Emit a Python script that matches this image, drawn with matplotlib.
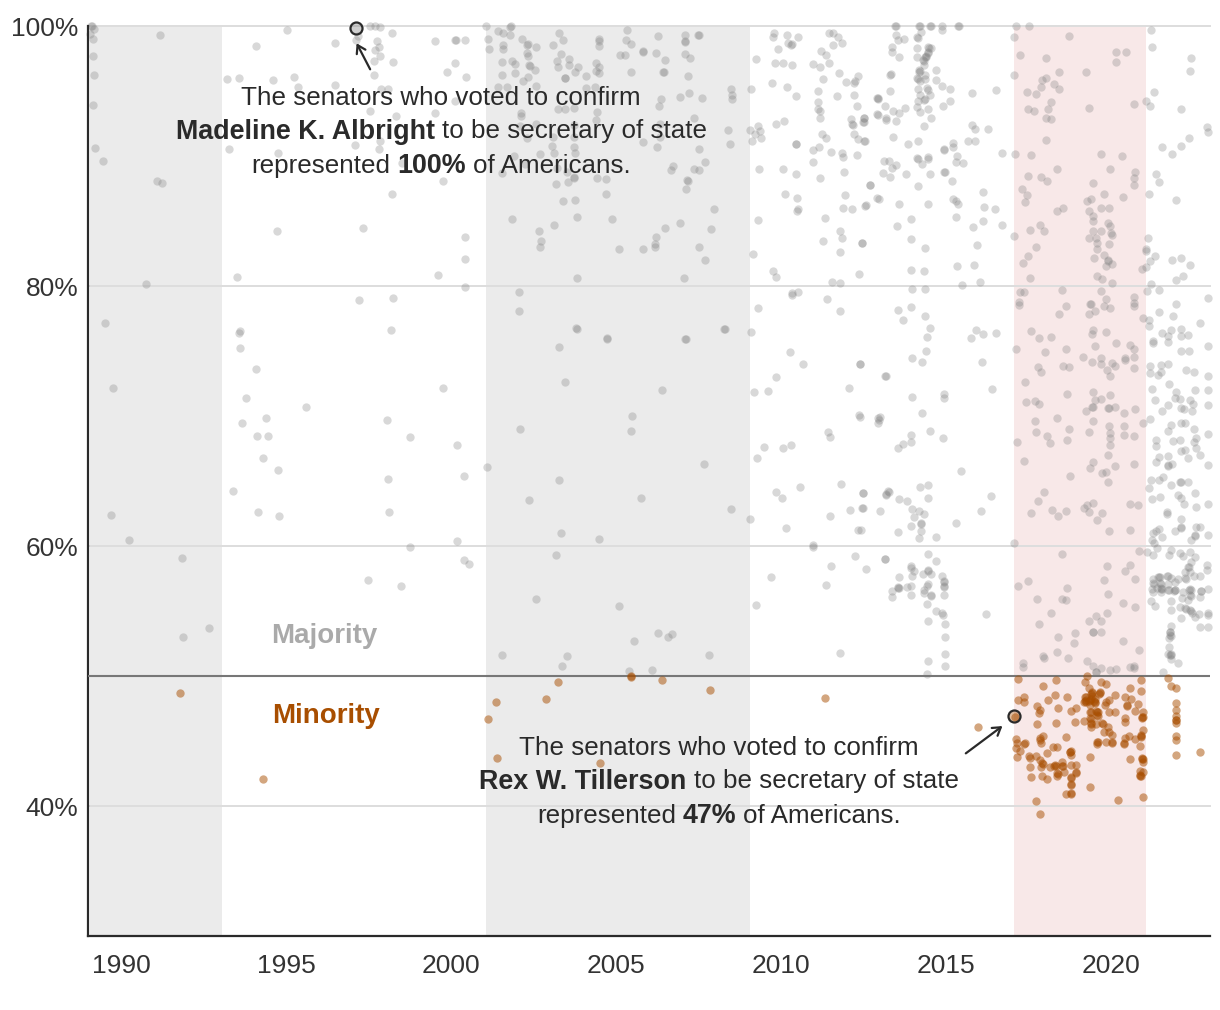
import matplotlib
matplotlib.use('Agg')
import matplotlib.pyplot as plt
import numpy as np

# (year, share of Americans represented, %)
bush = [(1989.11,100),(1989.08,100),(1989.18,99.8),(1989.06,99.4),(1989.16,99.0),(1989.16,97.7),(1989.18,96.2),(1989.16,93.95),
    (1989.21,90.64),(1989.45,89.64),(1991.1,88.08),(1991.23,87.9),(1991.18,99.3),(1990.76,80.15),(1989.53,77.18),
    (1989.76,72.15),(1989.7,62.4),(1990.24,60.46),(1991.85,59.08),(1991.88,53.0),(1992.67,53.7)]

clinton = [(1994.09,98.5),(1995.02,99.7),(1993.2,95.9),(1993.59,95.97),(1994.62,95.85),(1995.25,96.1),(1995.36,95.3),(1996.48,98.67),
    (1996.48,95.44),(1997.12,98.9),(1997.19,99.2),(1997.55,100),(1997.7,100),(1997.85,99.95),(1998.21,99.46),(1997.75,98.82),
    (1997.83,98.4),(1997.7,98.15),(1997.85,97.7),(1997.68,97.3),(1998.25,97.23),(1997.68,96.23),(1997.87,95.18),(1998.1,95.13),
    (1997.55,93.46),(1998.33,93.08),(1997.85,91.18),(1997.08,90.87),(1997.83,90.51),(1998.5,89.5),(1999.77,88.05),(1998.21,87.08),
    (1994.72,84.26),(1997.34,84.46),(2000.41,83.77),(2000.41,82.08),(1999.6,80.82),(2000.41,79.9),(1993.5,80.72),(1997.2,78.95),
    (1998.23,79.1),(1993.6,76.56),(1998.17,76.64),(1993.27,90.54),(1994.76,90.2),(1999.51,98.82),(2000.15,98.95),(2000.12,98.95),
    (2000.41,98.95),(2000.11,97.13),(1999.87,96.44),(2000.46,96.1),(1999.51,93.3),(2000.12,94.26),
    (1993.58,76.4),(1993.6,75.2),(1994.09,73.6),(1993.79,71.4),(1993.67,69.5),(1994.39,69.85),(1994.12,68.46),(1994.45,68.46),
    (1994.3,66.8),(1994.76,65.85),(1993.4,64.2),(1994.15,62.6),(1994.79,62.3),(1995.6,70.7),(1997.48,57.4),(1998.06,69.7),
    (1998.09,65.15),(1998.12,62.6),(1998.48,56.9),(1998.76,68.4),(1998.76,59.9),(1999.76,72.15),(2000.18,67.77),(2000.39,65.4),
    (2000.18,60.4),(2000.39,58.9),(2000.55,58.6)]

wbush = [(2001.06,100),(2001.82,100),(2001.8,99.95),(2001.41,99.64),(2001.59,99.5),(2001.79,99.3),(2001.11,99.0),(2001.59,98.54),
    (2001.59,98.2),(2001.16,98.2),(2002.15,98.97),(2002.32,98.6),(2002.3,98.55),(2002.58,98.36),(2002.31,97.9),(2002.32,97.7),
    (2001.55,97.2),(2001.84,97.3),(2001.94,97.1),(2002.36,97.0),(2002.38,96.95),(2002.55,96.6),(2001.56,96.26),(2001.94,96.36),
    (2002.34,96.1),(2002.19,95.74),(2002.58,95.4),(2001.41,95.28),(2001.71,95.28),(2003.26,99.5),(2003.39,98.9),(2003.08,98.56),
    (2003.33,97.87),(2003.2,97.33),(2003.58,97.46),(2003.23,96.82),(2003.58,97),(2003.84,96.85),(2003.76,96.5),(2003.45,96),
    (2003.46,95.97),(2004.1,96.15),(2004.47,98.85),(2004.47,99.0),(2004.49,98.44),(2004.39,97.13),(2004.49,96.82),(2004.47,96.4),
    (2004.39,96.54),(2004.09,95.2),(2004.37,95.28),(2005.32,99.7),(2005.3,98.9),(2005.45,98.64),(2005.12,97.77),(2005.27,97.77),
    (2005.82,98.05),(2005.83,98.03),(2005.45,96.5),(2006.26,99.23),(2006.21,97.92),(2006.49,97.41),(2006.44,96.46),(2006.43,96.47),
    (2007.09,99.3),(2007.09,98.74),(2007.1,98.85),(2007.5,99.3),(2007.49,99.28),(2007.09,97.82),(2007.23,97.54),(2007.19,96.13),
    (2007.21,94.82),(2006.94,94.54),(2007.6,94.44),(2006.37,94.41),(2006.31,93.87),(2008.49,95.18),(2008.53,94.69),(2008.53,94.36),
    (2002.12,93.3),(2002.13,93.1),(2003.25,93.59),(2003.45,93.59),(2003.74,93.69),(2004.43,93.38),(2004.39,92.77),(2002.58,92.5),
    (2002.09,92.3),(2003.74,92.38),(2003.1,91.49),(2002.29,91.36),(2003.74,91.5),(2003.06,90.8),(2003.72,90.67),(2003.12,90.26),
    (2003.75,90.2),(2002.7,90.13),(2001.92,90),(2002.24,89.4),(2001.56,88.67),(2003.22,89.05),(2003.53,88.74),(2003.73,88.36),
    (2003.74,88.3),(2004.42,88.33),(2004.69,88.23),(2003.55,88),(2003.17,87.82),(2004.69,87.05),(2003.39,86.54),(2003.76,86.6),
    (2006.33,92.5),(2006.33,91.5),(2005.81,91.08),(2006.23,90.69),(2007.37,92.9),(2008.39,91.97),(2008.45,90.95),(2007.5,90.56),
    (2007.7,89.56),(2006.74,89.23),(2006.68,88.92),(2007.35,89.03),(2007.52,88.95),(2007.16,88.13),(2007.18,88.1),(2007.13,87.49),
    (2007.97,85.95),(2006.94,84.82),(2006.47,84.46),(2007.87,84.36),(2006.2,83.74),(2006.18,83.2),(2006.18,83.0),(2005.08,82.85),
    (2005.81,82.87),(2007.52,83),(2007.7,82.03),(2004.88,85.13),(2003.82,85.3),(2003.11,84.67),(2002.68,84.26),(2001.85,85.18),
    (2002.72,83.44),(2002.69,83),(2003.82,80.61),(2007.07,80.61),(2002.07,79.54),(2002.07,78.08),(2003.81,76.72),(2004.73,75.97),
    (2007.1,75.92),(2008.27,76.67),(2001.09,66.1),(2001.55,51.62),(2002.58,55.92),(2003.36,50.77),(2003.52,51.54),(2005.09,55.38),
    (2005.39,50.38),(2005.55,52.69),(2006.09,50.46),(2006.27,53.31),(2006.58,53),(2006.7,53.23),(2007.82,51.62),(2002.09,69),
    (2002.36,63.54),(2003.27,75.31),(2003.45,72.62),(2003.27,65.08),(2003.33,61),(2003.18,59.31),(2003.79,76.77),(2004.73,75.92),
    (2004.48,60.54),(2005.48,70),(2005.45,68.85),(2005.76,63.69),(2006.39,72),(2007.12,75.92),(2007.67,66.31),(2008.3,76.69),
    (2008.48,62.85)]

obama = [(2009.08,95.18),(2009.09,76.5),(2009.06,62.08),(2009.8,99.44),(2009.75,99.15),(2010.17,99.3),(2010.5,99.13),(2010.32,98.6),
    (2010.3,98.55),(2010.2,98.67),(2009.92,98.26),(2009.23,97.44),(2009.82,97.18),(2010.05,97.18),(2010.34,97),(2009.72,95.64),
    (2010.17,95.33),(2010.46,94.64),(2009.85,92.44),(2010.09,92.72),(2009.31,92.33),(2009.06,92),(2009.35,91.95),(2009.21,91.69),
    (2009.4,91.36),(2009.12,91.15),(2010.44,90.92),(2010.45,90.9),(2009.33,88.97),(2010.07,89),(2010.46,88.6),(2010.11,87.05),
    (2010.48,86.77),(2010.53,85.92),(2010.48,85.74),(2009.3,85.08),(2009.15,82.46),(2009.77,81.15),(2009.86,80.67),(2010.32,79.44),
    (2010.32,79.3),(2010.5,79.56),(2009.3,78.28),(2011.46,99.44),(2011.57,99.44),(2011.72,99.13),(2011.57,98.54),(2011.84,98.67),
    (2011.21,98.05),(2011.35,97.79),(2011.46,97.18),(2010.97,97.05),(2011.19,96.85),(2011.76,96.41),(2011.28,95.92),(2012.32,96.18),
    (2011.96,95.72),(2012.23,95.74),(2012.2,95.65),(2011.11,95),(2011.69,94.59),(2012.21,94.67),(2012.92,94.49),(2011.12,94.15),
    (2012.29,93.85),(2011.11,93.6),(2011.18,93.46),(2012.92,93.2),(2011.18,92.9),(2012.11,92.82),(2012.16,92.46),(2012.18,92.4),
    (2012.5,92.6),(2012.53,92.95),(2011.24,91.67),(2011.35,91.38),(2012.21,91.69),(2012.34,91.28),(2012.55,91.18),(2011.16,90.69),
    (2010.98,90.46),(2011.5,90.33),(2011.85,90.26),(2011.87,89.95),(2012.31,90.1),(2010.96,89.56),(2011.91,88.79),(2011.18,88.33),
    (2012.7,87.74),(2011.94,87),(2012.92,86.74),(2012.57,86.2),(2011.88,86),(2012.16,85.92),(2011.33,85.2),(2011.8,84.26),
    (2011.84,83.67),(2011.26,83.46),(2012.44,83.33),(2011.8,82.64),(2012.37,80.92),(2011.55,80.28),(2011.79,80.23),(2011.38,79),
    (2011.8,78.08),(2009.24,55.46),(2009.7,57.62),(2009.18,71.85),(2009.6,71.92),(2009.85,73),(2010.27,74.92),(2010.67,74),
    (2009.27,66.77),(2009.48,67.62),(2010.06,67.54),(2010.3,67.77),(2009.85,64.15),(2010.03,63.69),(2010.58,64.54),(2010.15,61.38),
    (2010.97,60.08),(2010.97,59.9),(2011.42,68.77),(2011.48,68.38),(2011.82,64.77),(2011.48,62.31),(2011.52,58.46),(2011.36,57),
    (2011.79,51.77),(2012.06,72.15),(2012.39,74),(2012.36,70.08),(2012.94,69.85),(2012.96,69.7),(2013.15,73.08),(2012.09,62.77),
    (2012.48,62.92),(2012.48,64.08),(2013.18,64),(2013.25,64.2),(2012.33,61.23),(2012.24,59.23),(2013.15,59),
    (2013.47,100),(2013.45,100),(2014.21,100),(2014.18,100),(2014.55,100),(2014.53,100),(2014.89,100),(2014.87,99.69),
    (2015.39,100),(2015.37,100),(2013.48,99.31),(2013.56,98.92),(2013.73,98.97),(2014.12,99.13),(2014.14,99.1),(2014.25,99.56),
    (2013.36,98.41),(2013.37,98.02),(2013.58,97.61),(2014.11,98.31),(2014.11,97.61),(2014.46,98.36),(2014.48,98.3),(2014.56,98.31),
    (2014.46,98.02),(2014.44,97.95),(2014.38,97.64),(2014.36,97.6),(2014.4,97.7),(2014.31,97.38),(2014.33,97.3),(2014.34,97),
    (2014.19,96.62),(2014.2,96.55),(2014.17,96.5),(2014.71,96.62),(2013.32,96.31),(2013.31,96.2),(2014.36,96.23),(2014.13,95.97),
    (2014.15,95.9),(2014.21,95.79),(2014.36,95.92),(2014.69,95.87),(2014.89,95.41),(2015.12,95.18),(2014.16,95.15),(2014.43,95.2),
    (2014.45,95.1),(2013.29,95),(2014.51,94.69),(2014.21,94.69),(2014.36,94.38),(2014.34,94.3),(2014.16,94.2),(2015.11,94.26),
    (2015.8,94.82),(2016.51,95.08),(2012.94,94.46),(2012.95,94.4),(2013.16,93.85),(2013.77,93.67),(2013.38,93.49),(2013.58,93.33),
    (2014.11,93.79),(2014.2,93.41),(2014.44,93.64),(2014.9,93.85),(2012.93,93.18),(2013.18,92.9),(2013.19,92.75),(2013.47,92.69),
    (2014.55,92.95),(2012.53,92.95),(2012.49,92.6),(2014.34,92.33),(2015.8,92.41),(2015.88,92.1),(2016.28,92.1),(2013.39,91.49),
    (2012.53,91.15),(2014.16,91.18),(2013.84,90.92),(2015.2,91.03),(2015.2,90.7),(2014.93,90.56),(2014.94,90.5),(2015.68,91.15),
    (2015.87,91.13),(2016.71,90.23),(2014.13,89.82),(2014.15,89.75),(2014.46,89.92),(2014.44,89.8),(2015.34,90),(2015.29,89.56),
    (2015.52,89.49),(2013.12,89.59),(2013.27,89.62),(2013.47,89.28),(2013.37,89.1),(2014.27,89.36),(2013.08,88.72),(2013.3,88.38),
    (2013.78,88.62),(2014.53,88.59),(2014.95,88.79),(2014.96,88.75),(2015.19,88.1),(2014.16,87.69),(2012.69,87.74),(2016.11,87.2),
    (2012.96,86.72),(2012.56,86.18),(2013.58,86.28),(2014.44,86.33),(2015.22,86.72),(2015.29,86.56),(2015.35,86.33),(2016.15,86.1),
    (2016.48,85.92),(2013.95,85.13),(2013.52,84.62),(2015.3,85.28),(2016.11,84.97),(2015.82,84.51),(2016.69,84.72),(2013.95,83.62),
    (2012.44,83.33),(2014.37,82.9),(2015.93,83.18),(2013.95,81.2),(2014.33,81.15),(2015.32,81.56),(2015.86,81.64),(2015.47,80.1),
    (2016.03,80.31),(2013.96,79.74),(2014.37,79.74),(2013.55,78.18),(2013.95,78.41),(2013.69,77.41),(2014.35,77.69),(2014.51,76.79),
    (2014.42,76.1),(2015.92,76.62),(2016.11,76.31),(2016.53,76.41),(2015.76,75.97),
    (2012.39,74),(2013.17,73.1),(2013.96,74.49),(2014.39,75.03),(2014.27,74.18),(2016.08,74.18),(2016.4,72.05),(2013.97,71.44),
    (2014.93,71.72),(2014.95,71.39),(2014.27,70.26),(2012.39,69.95),(2013.01,69.93),(2012.94,69.49),(2014.52,68.85),(2013.95,68.54),
    (2014.92,68.31),(2013.71,67.87),(2013.95,68),(2013.54,67.52),(2015.45,65.77),(2014.45,64.72),(2014.2,64.52),(2012.47,64.1),
    (2013.27,64.16),(2013.18,63.95),(2013.57,63.62),(2013.83,63.49),(2014.45,63.67),(2016.37,63.82),(2012.45,62.93),(2013,62.72),
    (2013.98,62.82),(2014.17,62.7),(2014.33,62.49),(2014.02,62.26),(2016.05,62.72),(2014.23,61.77),(2014.24,61.7),(2013.94,61.57),
    (2015.31,61.8),(2013.54,61.05),(2014.24,61.16),(2014.18,60.64),(2014.71,60.67),(2012.42,61.21),(2014.45,59.41),(2013.16,59),
    (2014.71,58.88),(2012.58,58.21),(2013.94,58.46),(2013.95,58.3),(2014.04,58.1),(2014.44,58.15),(2014.45,58.05),(2013.96,57.72),
    (2013.58,57.59),(2014.31,57.82),(2014.54,57.82),(2014.87,57.72),(2014.93,57.31),(2014.94,57.2),(2014.93,56.95),(2014.94,56.85),
    (2014.44,57.08),(2014.42,56.95),(2013.94,56.95),(2013.82,56.87),(2013.56,56.8),(2013.58,56.78),(2013.54,56.82),(2013.36,56.52),
    (2013.37,56.1),(2013.94,56.21),(2014.32,56.62),(2014.33,56.36),(2014.54,56.23),(2014.56,56.15),(2014.95,56.26),(2014.43,55.54),
    (2014.69,55),(2014.88,54.87),(2014.92,54.7),(2016.2,54.77),(2014.46,54.23),(2014.97,54),(2014.97,53),(2014.96,51.69),
    (2014.45,51.18),(2014.96,50.78),(2014.42,50.16)]

trump = [(2017.13,100),(2017.53,100),(2017.07,99.13),(2018.73,99.23),(2017.23,97.79),(2018.03,97.56),(2020.15,98),(2020.44,98.02),
    (2020.15,97.26),(2017.06,96.26),(2018.43,96.49),(2019.24,96.46),(2018.03,96.03),(2017.9,95.85),(2018.28,95.54),(2017.88,95.31),
    (2018.43,95.13),(2017.45,94.92),(2017.74,94.79),(2018.17,94.18),(2018.1,93.62),(2017.47,93.59),(2017.68,93.46),(2019.33,93.67),
    (2020.69,93.97),(2018.02,92.9),(2018.18,92.87),(2018.03,91.23),(2017.09,90.13),(2017.58,90.08),(2019.69,90.18),(2020.34,90.03),
    (2018.36,89.03),(2019.97,89),(2017.47,88.49),(2017.88,88.38),(2018.07,88.1),(2020.73,88.74),(2020.69,88.28),(2020.7,87.79),
    (2019.45,87.95),(2017.31,87.49),(2017.44,86.97),(2017.39,86.44),(2019.79,87.08),(2019.38,86.67),(2019.28,86.51),(2020.35,86.82),
    (2018.54,85.97),(2018.37,85.77),(2019.69,86),(2019.94,86),(2019.33,85.74),(2019.44,85.41),(2019.45,84.97),(2019.92,84.82),
    (2019.97,84.64),(2017.85,84.67),(2017.55,84.28),(2017.97,84.26),(2019.44,84.26),(2019.69,84.26),(2019.99,84.05),(2020.04,83.9),
    (2017.06,83.87),(2019.33,83.69),(2019.56,83.69),(2019.57,83.28),(2019.93,83.2),(2019.57,82.87),(2017.74,83),(2017.49,82.33),
    (2019.47,82.18),(2019.79,82.41),(2017.32,81.74),(2019.92,82.03),(2019.9,81.95),(2019.84,81.56),(2020.04,81.67),(2020.94,81.33),
    (2019.58,80.79),(2019.73,80.56),(2017.54,80.61),(2020.03,80.26),(2017.25,79.56),(2017.35,79.56),(2018.53,79.67),(2019.69,79.59),
    (2017.21,78.74),(2017.21,78.51),(2018.63,78.49),(2019.84,78.97),(2020.71,79.15),(2020.71,78.69),(2020.71,78.46),(2019.36,78.64),
    (2019.4,78.6),(2019.79,78.44),(2019.98,78.28),(2019.52,78.1),(2019.34,77.82),(2018.43,77.87),(2020.98,77.56),(2017.59,76.54),
    (2019.45,76.59),(2019.42,76.31),(2019.84,76.46),(2017.83,76.03),(2018.17,76.1),
    (2017.13,75.13),(2018.01,74.95),(2018.65,75.16),(2019.53,75.36),(2020.16,75.64),(2020.59,75.49),(2020.69,75.13),(2019.16,74.57),
    (2019.43,74.16),(2019.69,74.44),(2019.69,74),(2020.43,74.49),(2020.43,74.31),(2020.69,74.57),(2020.04,74.05),(2020.12,73.87),
    (2019.89,73.54),(2019.97,73.1),(2020.7,73.72),(2017.79,73.75),(2017.87,73.36),(2018.56,73.85),(2018.73,73.75),(2017.39,72.59),
    (2018.68,71.7),(2019.44,71.82),(2019.97,71.64),(2019.69,71.34),(2019.52,71.23),(2017.43,71.08),(2017.7,71.16),(2017.82,70.93),
    (2019.43,70.72),(2019.45,70.68),(2019.92,70.64),(2019.94,70.6),(2020.12,70.72),(2019.23,70.36),(2020.39,70.23),(2020.72,70.52),
    (2017.71,69.64),(2018.37,69.82),(2019.44,69.59),(2020.97,69.44),(2019.95,69.26),(2020.39,69.26),(2018.73,68.98),(2017.74,68.8),
    (2019.33,68.8),(2019.97,68.67),(2020.39,68.57),(2020.71,68.46),(2018.07,68.44),(2019.97,68.31),(2017.16,68),(2018.16,67.95),
    (2018.68,68.16),(2019.97,67.75),(2019.92,67.03),(2017.35,66.54),(2019.46,66.47),(2019.35,66),(2020.12,66.18),(2020.71,66.33),
    (2018.77,65.41),(2019.72,65.62),(2019.84,65.67),(2019.92,64.93),(2017.97,64.13),(2017.79,63.44),(2019.26,63.18),(2019.44,63.31),
    (2019.18,62.9),(2019.32,62.64),(2020.57,63.26),(2020.81,63.18),(2017.58,62.56),(2018.22,62.77),(2018.39,62.33),(2018.65,62.67),
    (2019.73,62.54),(2019.57,62.03),(2019.95,61.13),(2020.57,61.26),(2017.07,60.26),(2018.53,59.41),(2020.86,59.62),(2019.89,58.46),
    (2020.57,58.51),(2020.42,58.1),(2020.72,57.49),(2019.79,57.36),(2017.47,57.31),(2017.17,56.92),(2018.66,56.75),(2019.92,56.28),
    (2017.76,55.95),(2018.53,55.92),(2018.65,55.87),(2020.36,55.65),(2020.72,55.29),(2019.89,54.88),(2018.17,54.82),(2019.55,54.64),
    (2019.33,54.23),(2019.71,54.26),(2017.83,54.03),(2019.44,53.39),(2019.46,53.35),(2019.71,53.36),(2018.9,53.34),(2018.39,53.03),
    (2018.88,52.54),(2020.36,52.69),(2020.86,51.98),(2018.36,51.88),(2017.93,51.56),(2017.96,51.39),(2018.69,51.41),(2019.27,51.18),
    (2017.32,50.98),(2017.33,50.67),(2019.44,50.8),(2019.69,50.6),(2019.54,50.34),(2019.56,50.3),(2019.96,50.46),(2020.15,50.52),
    (2020.57,50.7),(2020.7,50.6),(2020.7,50.75)]

biden = [(2021.06,94.26),(2021.21,99.69),(2021.23,98.38),(2022.43,97.54),(2022.38,96.51),(2021.3,94.95),(2022.11,93.62),(2021.17,93.82),
    (2022.91,92.23),(2022.95,91.85),(2022.36,91.38),(2022.13,90.74),(2021.54,90.69),(2021.84,90.18),(2021.36,88.59),(2021.46,88.03),
    (2021.15,87.1),(2021.97,86.64),(2021.11,83.67),(2021.06,82.87),(2021.06,82.67),(2021.32,82.28),(2021.17,81.95),(2021.07,81.49),
    (2021.84,82.03),(2022.12,82.15),(2022.4,81.62),(2021.97,80.46),(2022.19,80.79),(2021.21,80.13),(2021.1,79.64),(2021.44,79.72),
    (2022.95,79.1),(2021.97,78.62),(2021.44,78),(2021.88,77.72),(2021.15,77.38),(2021.15,76.9),(2022.7,77.18),(2021.83,76.59),
    (2022.13,76.67),(2021.56,76.36),(2021.73,76.15),(2022.11,76.18),(2022.34,76.2),(2021.28,75.8),
    (2021.28,75.64),(2021.73,75.7),(2022.11,75),(2022.37,75.03),(2022.93,75.41),(2021.19,73.85),(2021.53,73.93),(2021.72,73.98),
    (2021.17,73.29),(2021.43,73.13),(2021.53,73.39),(2022.26,73.54),(2022.53,73.39),(2022.93,73.08),(2021.76,72.44),(2021.23,72.08),
    (2021.96,71.88),(2022.55,72.03),(2022.95,72.03),(2021.93,71.36),(2022.1,71.29),(2022.39,71.21),(2021.32,71.21),(2022.49,70.93),
    (2022.93,70.85),(2021.74,70.85),(2022.11,70.59),(2021.54,70.41),(2022.21,70.51),(2022.45,70.36),(2021.19,69.8),(2022.11,69.44),
    (2022.25,69.49),(2021.81,69.29),(2021.73,68.87),(2022.53,69),(2022.93,68.59),(2022.59,68.34),(2021.35,68.16),(2021.88,68.08),
    (2022.1,68.16),(2022.53,68),(2021.36,67.7),(2022.57,67.57),(2022.11,67.31),(2022.24,67.39),(2022.71,67.03),(2021.46,66.87),
    (2021.73,66.92),(2022.32,66.77),(2021.37,66.47),(2021.72,66.21),(2021.74,66.18),(2021.85,66.29),(2022.93,66.21),(2021.57,65.33),
    (2021.45,65.05),(2021.2,65.05),(2022.1,64.95),(2022.12,64.93),(2022.34,64.92),(2021.83,64.7),(2021.15,64.44),(2021.23,63.62),
    (2021.47,63.8),(2022.03,63.92),(2022.11,63.67),(2022.55,64.05),(2022.21,63.21),(2022.59,63.03),(2022.93,63.21),(2021.7,62.6),
    (2021.71,62.5),(2022.11,62.05),(2022.57,61.49),(2022.71,61.49),(2022.11,61.44),(2022.12,61.35),(2021.94,61.16),(2021.46,61.31),
    (2021.35,61.18),(2021.28,60.98),(2022.54,60.82),(2022.55,60.75),(2022.95,60.82),(2021.55,60.67),(2021.23,60.44),(2022.43,60.44),
    (2021.31,60.21),(2021.1,59.54),(2021.38,59.85),(2021.81,59.7),(2021.76,59.31),(2021.28,59.31),(2022.09,59.44),(2022.19,59.23),
    (2022.39,59.52),(2022.55,59.13),(2022.41,58.8),(2022.9,58.56),(2022.34,58.41),(2022.36,58.35),(2022.24,58.03),(2022.9,58.15),
    (2022.39,58.03),(2022.71,57.72),(2022.53,57.72),(2022.04,57.46),(2022.24,57.52),(2022.26,57.45),(2021.28,57.44),(2021.45,57.64),
    (2021.47,57.58),(2021.43,57.6),(2021.7,57.72),(2021.72,57.68),(2021.83,57.52),(2021.28,57.13),(2021.3,57.05),(2021.48,57.13),
    (2021.5,57.08),(2021.73,57.08),(2021.93,57.26),(2021.23,56.67),(2021.38,56.75),(2021.53,56.75),(2021.55,56.7),(2021.51,56.72),
    (2021.73,56.62),(2021.75,56.58),(2021.93,56.62),(2021.95,56.58),(2021.91,56.55),(2021.53,56.49),(2021.28,56.49),(2022.39,56.67),
    (2022.41,56.62),(2022.37,56.6),(2022.74,56.57),(2022.72,56.52),(2022.95,56.67),(2022.19,56.49),(2022.39,56.23),(2022.41,56.18),
    (2022.69,56.1),(2021.21,55.8),(2021.83,55.8),(2022.14,56),(2022.34,55.85),(2021.32,55.41),(2021.83,55.08),(2022.09,55.34),
    (2022.24,55.21),(2022.26,55.16),(2022.39,55.08),(2022.41,55.03),(2022.54,54.57),(2022.67,54.77),(2022.93,54.82),(2022.94,54.7),
    (2022.44,54.82),(2022.11,54.49),(2022.69,53.8),(2022.95,53.8),(2021.83,53.87),(2021.78,53.41),(2021.8,53.35),(2021.8,53.16),
    (2021.82,53.1),(2021.76,52.9),(2021.76,52.26),(2021.81,51.7),(2021.82,51.65),(2021.8,51.62),(2021.72,51.67),(2021.83,51.29),
    (2022.03,51.03),(2021.57,50.31)]

minority = [(1991.79,48.69),(1994.3,42.08),(2001.12,46.69),(2001.36,48),(2001.39,43.69),(2002.88,48.23),(2003.24,49.54),(2004.52,43.31),
    (2005.45,50.0),(2005.45,49.95),(2006.39,49.69),(2007.85,48.92),(2011.33,48.31),
    (2015.96,46.1),(2017.17,49.74),(2017.94,49.26),(2018.32,49.69),(2017.37,48.36),(2017.17,48.13),(2017.35,47.97),(2018.08,48.13),
    (2018.3,48.54),(2018.68,48.36),(2017.76,47.69),(2017.84,47.38),(2017.82,47.13),(2018.38,47.51),(2017.09,46.82),(2017.76,46.31),
    (2018.32,46.41),(2018.78,47.31),(2018.95,47.54),(2018.9,46.44),(2017.12,45.13),(2017.14,44.82),(2017.12,44.49),(2017.24,44.26),
    (2017.14,43.79),(2017.39,44.82),(2017.37,44.8),(2017.95,45.38),(2017.84,45.2),(2017.86,45.1),(2017.87,44.82),(2018.63,45.31),
    (2018.25,44.51),(2018.36,44.54),(2018.07,44.08),(2018.75,44.18),(2018.77,44.12),(2018.79,44.2),(2018.78,43.92),(2017.53,43.87),
    (2017.55,43.7),(2017.73,43.87),(2017.84,43.54),(2017.91,43.28),(2017.93,43.22),(2017.87,43.03),(2017.56,42.97),(2018.15,43.03),
    (2018.3,43.13),(2018.32,43.08),(2018.28,43.05),(2018.52,43.41),(2018.52,43.1),(2018.54,43.05),(2018.78,43.15),(2018.95,43.13),
    (2018.93,42.62),(2018.95,42.55),(2018.37,42.56),(2018.39,42.5),(2018.59,42.59),(2017.59,42.2),(2017.91,42.28),(2018.07,42.08),
    (2018.36,42.33),(2018.78,42.2),(2018.79,42.12),(2018.78,41.69),(2018.79,41.62),(2018.65,40.9),(2018.78,40.97),(2018.8,40.92),
    (2019.37,43.74),(2019.35,41.49),(2017.73,40.41),(2017.85,39.36),(2020.2,40.46),(2020.97,40.72),
    (2019.21,48.08),(2019.19,48.0),(2019.23,48.15),(2019.25,48.02),(2019.41,48.67),(2019.39,48.6),(2019.43,48.75),(2019.42,48.5),
    (2019.66,48.67),(2019.64,48.6),(2019.68,48.75),(2019.71,49.56),(2019.86,49.38),(2019.21,49.56),(2019.28,50.0),(2019.34,49.1),
    (2019.51,48.03),(2019.49,48.1),(2019.53,47.95),(2019.5,48.2),(2019.36,48.15),(2019.34,48.05),(2019.38,48.25),(2019.21,48.41),
    (2019.23,48.35),(2019.86,48.03),(2019.95,48.15),(2020.12,48.51),(2019.81,47.77),(2019.36,47.77),(2019.36,47.26),(2019.38,47.2),
    (2019.58,47.26),(2019.6,47.2),(2019.56,47.3),(2019.58,47),(2019.6,46.95),(2019.94,47.26),(2020.12,47.26),(2019.36,46.74),
    (2019.38,46.7),(2019.18,46.56),(2019.38,46.36),(2019.4,46.3),(2019.38,46.1),(2019.56,46.31),(2019.73,46.36),(2019.75,46.3),
    (2019.91,46.1),(2019.79,45.67),(2019.94,45.72),(2020.02,45.46),(2019.58,44.95),(2019.6,44.9),(2019.58,44.74),(2019.84,44.95),
    (2020.02,44.95),(2020.03,44.88),(2020.42,45.2),(2020.38,44.82),(2020.39,44.76),(2020.57,49.05),(2020.42,48.41),(2020.6,48.26),
    (2020.47,47.77),(2020.49,47.7),(2020.81,47.82),(2020.72,47.31),(2020.42,46.74),(2020.42,46.44),(2020.96,47.26),(2020.95,46.87),
    (2020.97,46.82),(2020.93,46.8),(2020.91,49.69),(2020.91,48.87),(2020.96,45.85),(2020.9,45.46),(2020.92,45.4),(2020.9,45.28),
    (2020.55,45.41),(2020.72,45.18),(2020.88,44.62),(2020.58,43.64),(2020.95,43.67),(2020.97,43.62),(2020.93,43.6),(2020.96,43.41),
    (2020.96,42.64),(2020.88,42.72),(2020.89,42.38),(2020.91,42.33),(2020.88,42.3),
    (2021.72,49.82),(2021.81,49.26),(2021.97,49.05),(2021.97,47.9),(2021.97,47.38),(2021.97,46.92),(2021.97,46.62),(2021.98,46.58),
    (2021.97,46.41),(2021.97,45.38),(2021.97,45.08),(2021.97,43.92),(2022.7,44.13)]

gop_terms = [(1989.05, 1993.05), (2001.05, 2009.05)]
trump_term = (2017.05, 2021.05)
y_ticks = [40, 60, 80, 100]
y_labels = ['40%', '60%', '80%', '100%']
x_ticks = [1990, 1995, 2000, 2005, 2010, 2015, 2020]

INK = '#2a2a2a'
plt.rcParams['font.family'] = ['Liberation Sans', 'DejaVu Sans']

fig = plt.figure(figsize=(12.2, 10.1), dpi=100)
ax = fig.add_axes([88 / 1220, 1 - 936 / 1010, 1122 / 1220, 910 / 1010])
ax.set_xlim(1989, 2023)
ax.set_ylim(30, 100)

for start, end in gop_terms:
    ax.axvspan(start, end, color='#ebebeb', lw=0, zorder=0)
ax.axvspan(*trump_term, color='#f8e8e8', lw=0, zorder=0)

for v in [40, 60, 80, 100]:
    ax.axhline(v, color='#dddddd', lw=1.4, zorder=1, clip_on=False)
ax.axhline(50, color='#777777', lw=1.5, zorder=3)

maj = np.array(bush + clinton + wbush + obama + trump + biden)
mino = np.array(minority)
ax.scatter(maj[:, 0], maj[:, 1], s=36, color='#808080', alpha=0.3, lw=0, zorder=2, clip_on=False)
ax.scatter(mino[:, 0], mino[:, 1], s=36, color='#a84e00', alpha=0.5, lw=0, zorder=4)

ax.set_yticks(y_ticks, y_labels)
ax.set_xticks(x_ticks)
ax.tick_params(length=0, labelsize=19, labelcolor='#333333')
ax.tick_params(axis='y', pad=7)
ax.tick_params(axis='x', pad=13)
for s in ['top', 'right']:
    ax.spines[s].set_visible(False)
for s in ['left', 'bottom']:
    ax.spines[s].set_color(INK)
    ax.spines[s].set_linewidth(1.6)

ax.text(1996.15, 53.1, 'Majority', fontsize=20, fontweight='bold', color='#aaaaaa', ha='center', va='center', zorder=6)
ax.text(1996.2, 46.95, 'Minority', fontsize=20, fontweight='bold', color='#a84e00', ha='center', va='center', zorder=6)

# highlighted nominees
ax.scatter([1997.12], [99.85], s=75, facecolor='#80808060', edgecolor=INK, lw=1.6, zorder=7, clip_on=False)
ax.scatter([2017.06], [46.92], s=75, facecolor='#a84e0060', edgecolor=INK, lw=1.6, zorder=7)
arrow = dict(arrowstyle='->,head_length=0.55,head_width=0.35', color=INK, lw=1.6, shrinkA=0, shrinkB=0)
ax.annotate('', xy=(1997.14, 98.67), xytext=(1997.55, 96.67), arrowprops=arrow, zorder=7)
ax.annotate('', xy=(2016.71, 46.15), xytext=(2015.6, 44.05), arrowprops=arrow, zorder=7)


def mixed_line(cx, y, parts):
    # one centred line made of regular and bold runs
    r = fig.canvas.get_renderer()
    texts = [ax.text(cx, y, t, fontsize=19.4 if b else 18.7, fontweight='bold' if b else 'normal', color=INK,
                     va='center_baseline', zorder=6) for t, b in parts]
    widths = [t.get_window_extent(r).width for t in texts]
    space = 7
    total = sum(widths) + space * (len(parts) - 1)
    x = ax.transData.transform((cx, y))[0] - total / 2
    inv = ax.transData.inverted()
    for t, w in zip(texts, widths):
        t.set_x(inv.transform((x, 0))[0])
        x += w + space


mixed_line(1999.7, 94.69, [('The senators who voted to confirm', False)])
mixed_line(1999.7, 92.08, [('Madeline K. Albright', True), ('to be secretary of state', False)])
mixed_line(1999.7, 89.46, [('represented', False), ('100%', True), ('of Americans.', False)])
mixed_line(2008.12, 44.69, [('The senators who voted to confirm', False)])
mixed_line(2008.12, 42.08, [('Rex W. Tillerson', True), ('to be secretary of state', False)])
mixed_line(2008.12, 39.46, [('represented', False), ('47%', True), ('of Americans.', False)])

plt.savefig('out.png', dpi=100)
